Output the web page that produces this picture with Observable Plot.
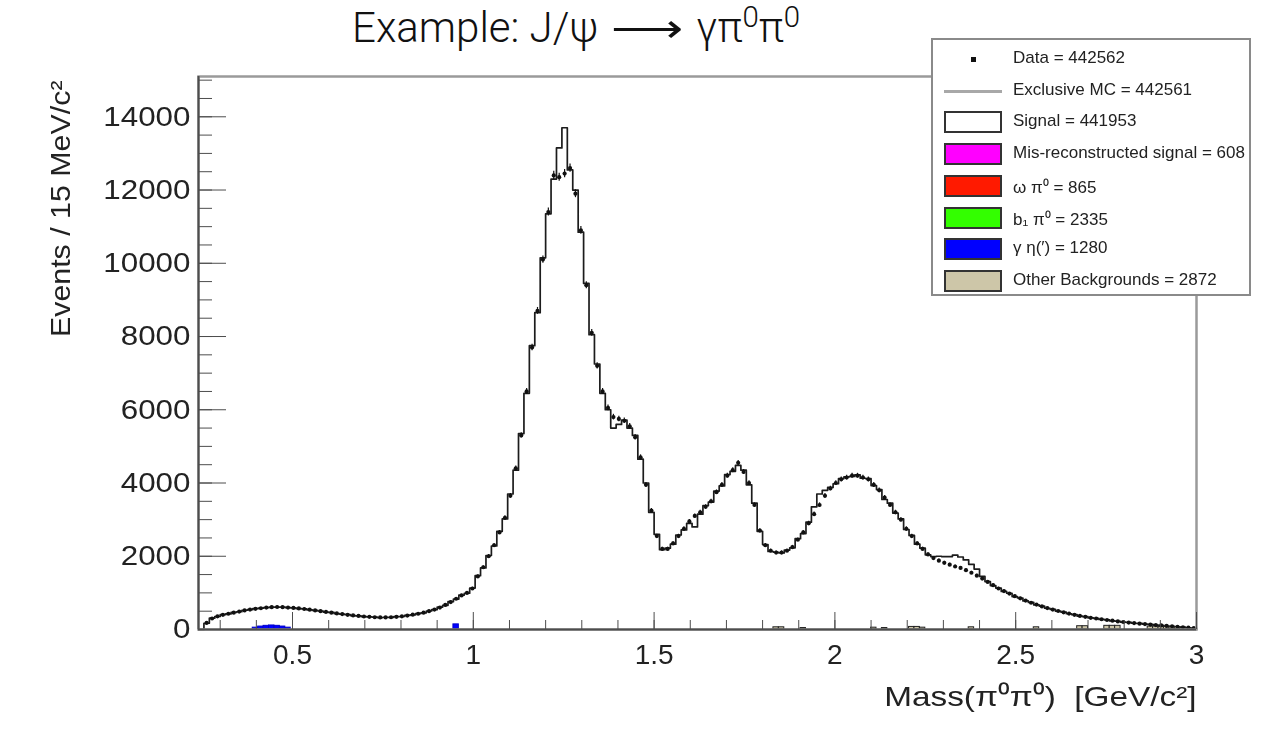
<!DOCTYPE html>
<html>
<head>
<meta charset="utf-8">
<script src="https://cdn.jsdelivr.net/npm/d3@7"></script>
<script src="https://cdn.jsdelivr.net/npm/@observablehq/plot@0.6"></script>
<style>
  body { margin: 0; background: #fff; }
  #wrap { position: relative; width: 1273px; height: 731px; overflow: hidden; font-family: "Liberation Sans", Arial, sans-serif; }
  #chart { position: absolute; left: 0; top: 0; filter: blur(0.4px); }
  #title { position: absolute; left: 352px; top: 2px; line-height: 52px; white-space: nowrap; font-family: Roboto, "Open Sans", sans-serif; font-weight: 300; font-size: 42px; color: #111; }
  #title sup { font-size: 0.7em; vertical-align: 0.5em; line-height: 0; }
  #title .arrow { display: inline-block; transform: scaleX(1.2); margin: 0 9px; }
  #legend { position: absolute; left: 931px; top: 38px; width: 320px; height: 258px; background: #fff; border: 2px solid #8a8a8a; box-sizing: border-box; filter: blur(0.35px); }
  .lrow { position: absolute; left: 0; height: 24px; width: 100%; }
  .lsym { position: absolute; left: 11px; width: 58px; height: 22px; top: 1px; box-sizing: border-box; }
  .lbox { border: 2px solid #333; }
  .lline { height: 3px; top: 11px; background: #a8a8a8; }
  .ldot { left: 38px; width: 5px; height: 5px; top: 10px; background: #111; }
  .ltext { position: absolute; left: 80px; top: 1px; font-size: 17px; color: #222; white-space: nowrap; }
</style>
</head>
<body>
<div id="wrap">
  <div id="chart"></div>
  <div id="title">Example: J/ψ <span class="arrow">⟶</span> γπ<sup>0</sup>π<sup>0</sup></div>
  <div id="legend"></div>
</div>
<script>
// Binning of the π0π0 invariant mass (GeV/c²), 15 MeV per bin
const massLo = 0.24, massHi = 3.0, binWidth = 0.015;
const yTop = 15100;

// Data: events per bin
const dataCounts = [
  0, 180, 300, 360, 400, 430, 460, 490, 520, 545,
  565, 580, 600, 610, 615, 610, 600, 590, 575, 560,
  540, 520, 500, 480, 460, 440, 420, 400, 385, 370,
  355, 345, 335, 330, 330, 335, 345, 360, 380, 405,
  430, 460, 500, 545, 600, 670, 750, 840, 930, 1000,
  1120, 1450, 1700, 2000, 2300, 2650, 3050, 3650, 4400, 5300,
  6500, 7700, 8700, 10100, 11400, 12400, 12350, 12450, 12600, 11900,
  10900, 9400, 8100, 7200, 6500, 6050, 5800, 5750, 5700, 5550,
  5250, 4700, 3950, 3250, 2550, 2200, 2200, 2350, 2550, 2750,
  2950, 3100, 3200, 3350, 3500, 3750, 3950, 4200, 4350, 4550,
  4300, 4000, 3400, 2700, 2300, 2150, 2100, 2100, 2150, 2250,
  2450, 2650, 2900, 3150, 3400, 3650, 3850, 4000, 4100, 4150,
  4200, 4200, 4150, 4100, 3950, 3800, 3600, 3400, 3200, 3000,
  2750, 2550, 2350, 2200, 2050, 1950, 1880, 1820, 1770, 1720,
  1680, 1620, 1550, 1470, 1390, 1300, 1210, 1120, 1050, 980,
  910, 850, 790, 730, 680, 630, 585, 545, 505, 470,
  435, 400, 370, 345, 320, 300, 280, 260, 240, 220,
  205, 190, 175, 160, 148, 135, 122, 110, 98, 86,
  75, 62, 50, 38
];

// Exclusive MC (signal + backgrounds), events per bin
const mcCounts = [
  0, 170, 310, 355, 405, 425, 465, 485, 525, 540,
  570, 585, 595, 615, 610, 615, 595, 590, 570, 565,
  535, 520, 505, 475, 465, 435, 420, 405, 380, 370,
  350, 345, 340, 325, 335, 330, 350, 355, 385, 400,
  435, 455, 505, 540, 610, 660, 760, 830, 940, 990,
  1130, 1470, 1680, 2020, 2280, 2680, 3020, 3700, 4350, 5350,
  6450, 7750, 8650, 10150, 11350, 12300, 13150, 13700, 12550, 12000,
  10850, 9450, 8050, 7250, 6450, 6000, 5500, 5600, 5720, 5500,
  5300, 4650, 4000, 3200, 2600, 2180, 2220, 2330, 2580, 2720,
  2900, 2800, 3150, 3380, 3480, 3780, 3920, 4230, 4320, 4480,
  4350, 3950, 3450, 2680, 2320, 2130, 2110, 2090, 2170, 2230,
  2480, 2620, 2930, 3350, 3700, 3800, 3880, 3980, 4120, 4170,
  4180, 4220, 4130, 4120, 3930, 3820, 3550, 3450, 3180, 3020,
  2730, 2570, 2330, 2220, 2040, 1990, 2000, 1990, 1990, 2030,
  1980, 1900, 1780, 1650, 1450, 1310, 1200, 1130, 1040, 990,
  900, 860, 780, 740, 670, 640, 580, 550, 500, 475,
  430, 405, 365, 350, 315, 305, 275, 265, 235, 225,
  200, 195, 170, 165, 145, 140, 118, 112, 95, 88,
  72, 64, 48, 40
];

// γη(′) background: bin index and events
const gammaEtaBins = [10, 11, 12, 13, 14, 15, 16, 47];
const gammaEtaCounts = [50, 80, 100, 110, 100, 80, 50, 140];

// Remaining small backgrounds: bin index and events
const otherBkgBins = [106, 107, 111, 124, 126, 131, 132, 133, 142, 154, 162, 163, 167, 168, 169, 175, 176, 177, 178, 179, 180];
const otherBkgCounts = [60, 60, 40, 50, 40, 70, 70, 50, 60, 60, 90, 90, 100, 100, 100, 80, 80, 70, 70, 60, 60];

// Axis ticks
const xLabelTicks = [0.5, 1, 1.5, 2, 2.5, 3];
const yLabelTicks = [0, 2000, 4000, 6000, 8000, 10000, 12000, 14000];
const xMinorTicks = d3.range(3, 30).map(d => d / 10);
const yMinorTicks = d3.range(0, 15001, 500);

// Legend entries
const legendLabels = ["Data", "Exclusive MC", "Signal", "Mis-reconstructed signal", "ω π⁰", "b₁ π⁰", "γ η(′)", "Other Backgrounds"];
const legendCounts = [442562, 442561, 441953, 608, 865, 2335, 1280, 2872];
const legendSymbols = ["dot", "line", "box", "box", "box", "box", "box", "box"];
const legendColors = [null, null, "#ffffff", "#ff00ff", "#ff1a00", "#33ff00", "#0000ff", "#cdc6a8"];

const yTitle = "Events / 15 MeV/c²";
const xTitle = "Mass(π⁰π⁰)\u00a0\u00a0[GeV/c²]";

// Build bin records
const bins = dataCounts.map((v, i) => ({
  lo: massLo + i * binWidth,
  hi: massLo + (i + 1) * binWidth,
  mid: massLo + (i + 0.5) * binWidth,
  data: v,
  mc: mcCounts[i]
}));
const mcSteps = bins.map(b => ({x: b.lo, y: b.mc}))
  .concat([{x: massHi, y: mcCounts[mcCounts.length - 1]}, {x: massHi, y: 0}]);
const dataPoints = bins.filter(b => b.data > 0);
const bkgRect = (idx, counts, color) => idx.map((k, j) => ({
  x1: massLo + k * binWidth, x2: massLo + (k + 1) * binWidth, y: counts[j], color
}));
const bkg = bkgRect(otherBkgBins, otherBkgCounts, "#cdc6a8")
  .concat(bkgRect(gammaEtaBins, gammaEtaCounts, "#0000ff"));

const axisColor = "#4d4d4d";

const chart = Plot.plot({
  width: 1273,
  height: 731,
  marginLeft: 198,
  marginRight: 77,
  marginTop: 76,
  marginBottom: 102,
  x: {domain: [massLo, massHi]},
  y: {domain: [0, yTop]},
  style: {fontFamily: "'Liberation Sans', Arial, sans-serif", fontSize: "28px", color: "#222", background: "transparent"},
  marks: [
    Plot.areaY(mcSteps, {x: "x", y: "y", curve: "step-after", fill: "#fff"}),
    Plot.line(mcSteps, {x: "x", y: "y", curve: "step-after", stroke: "#1c1c1c", strokeWidth: 1.7}),
    Plot.rectY(bkg, {x1: "x1", x2: "x2", y: "y", fill: "color", stroke: d => d.color === "#0000ff" ? "#0000cc" : "#222", strokeWidth: 1}),
    Plot.ruleX(dataPoints, {x: "mid", y1: d => d.data - Math.sqrt(d.data), y2: d => d.data + Math.sqrt(d.data), stroke: "#111", strokeWidth: 1.2}),
    Plot.dot(dataPoints, {x: "mid", y: "data", r: 2.1, fill: "#111", stroke: null}),
    // frame and axis lines
    Plot.frame({stroke: "#9a9a9a", strokeWidth: 2.5}),
    Plot.ruleY([0], {stroke: axisColor, strokeWidth: 2}),
    Plot.ruleX([massLo], {stroke: axisColor, strokeWidth: 2}),
    // inward ticks
    Plot.axisX(xMinorTicks, {tickSize: -9, tickFormat: () => "", label: null, stroke: axisColor}),
    Plot.axisX(xLabelTicks, {tickSize: -17, tickFormat: () => "", label: null, stroke: axisColor}),
    Plot.axisY(yMinorTicks, {tickSize: -14, tickFormat: () => "", label: null, stroke: axisColor}),
    Plot.axisY(yLabelTicks, {tickSize: -28, tickFormat: () => "", label: null, stroke: axisColor}),
    // tick labels
    Plot.axisX(xLabelTicks, {tickSize: 0, tickPadding: 15, tickFormat: d => `${d}`, label: null, fill: "#222"}),
    Plot.axisY(yLabelTicks, {tickSize: 0, tickPadding: 8, tickFormat: d => `${d}`, label: null, fill: "#222"}),
    // axis titles
    Plot.text([yTitle], {text: d => d, frameAnchor: "top-left", rotate: -90, textAnchor: "end", dx: -148, dy: 4, fontSize: 28, fill: "#222"}),
    Plot.text([xTitle], {text: d => d, frameAnchor: "bottom-right", textAnchor: "end", dy: 76, fontSize: 28, fill: "#222"})
  ]
});
document.getElementById("chart").append(chart);

// ROOT-style text is a little wider than the plain font: widen along the text direction
const widen = (test, s) => d3.select(chart).selectAll("text").each(function() {
  if (!test(this)) return;
  const t = this.getAttribute("transform");
  if (t) {
    this.setAttribute("transform", `${t} scale(${s},1)`);
  } else {
    const x = +this.getAttribute("x") || 0, y = +this.getAttribute("y") || 0;
    this.setAttribute("transform", `translate(${x},${y}) scale(${s},1) translate(${-x},${-y})`);
  }
});
const yTickText = new Set(yLabelTicks.map(d => `${d}`));
widen(el => el.closest('g[aria-label="y-axis tick label"]') !== null && yTickText.has(el.textContent), 1.12);
widen(el => el.textContent === yTitle, 1.085);
widen(el => el.textContent === xTitle, 1.19);

// Legend box
const legend = document.getElementById("legend");
legendLabels.forEach((label, i) => {
  const row = document.createElement("div");
  row.className = "lrow";
  row.style.top = `${7 + i * 31.7}px`;
  const sym = document.createElement("div");
  const kind = legendSymbols[i];
  sym.className = "lsym " + (kind === "box" ? "lbox" : kind === "line" ? "lline" : "ldot");
  if (kind === "box") sym.style.background = legendColors[i];
  const txt = document.createElement("div");
  txt.className = "ltext";
  txt.textContent = `${label} = ${legendCounts[i]}`;
  row.append(sym, txt);
  legend.append(row);
});
</script>
</body>
</html>
